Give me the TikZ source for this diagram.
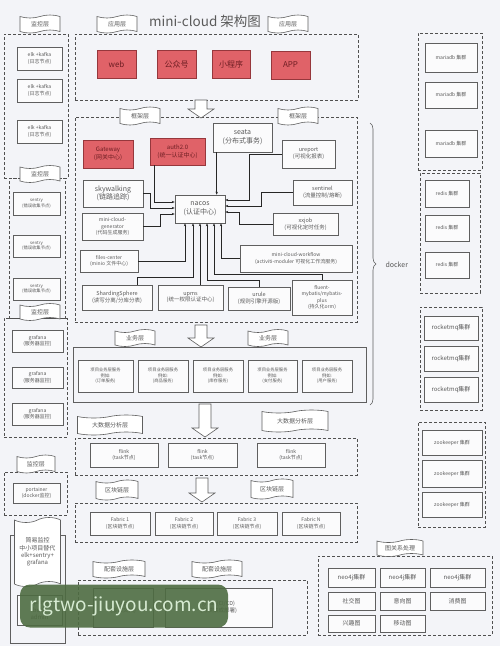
\documentclass[tikz,border=0pt]{standalone}
\usepackage{fontspec}
\setmainfont{Noto Sans CJK SC}
\usetikzlibrary{shapes.symbols,arrows.meta,decorations.pathreplacing,calc}
\definecolor{bgc}{RGB}{243,244,248}
\definecolor{boxfill}{RGB}{251,251,252}
\definecolor{linec}{RGB}{95,95,95}
\definecolor{dashc}{RGB}{80,80,80}
\definecolor{txtc}{RGB}{90,90,90}
\definecolor{redfill}{RGB}{224,98,104}
\definecolor{redline}{RGB}{150,55,60}
\definecolor{redtxt}{RGB}{110,30,35}
\definecolor{wmgreen}{RGB}{78,108,66}
\definecolor{wmtext}{RGB}{215,235,210}
\newcommand\mybox[7][]{\node[plainbox,#1,minimum width={#5-#3},minimum height={#6-#4}] (#2) at ({(#3+#5)/2},{(#4+#6)/2}) {#7};}
\newcommand\hollowarrow[3]{\draw[hollow] (#1-6,#2) -- (#1+6,#2) -- (#1+6,{#3-9}) -- (#1+13,{#3-9}) -- (#1,#3) -- (#1-13,{#3-9}) -- (#1-6,{#3-9}) -- cycle;}
\begin{document}
\begin{tikzpicture}[x=1pt,y=-1pt,
 f4/.style={font=\fontsize{4.3}{5.4}\selectfont},
 f5/.style={font=\fontsize{5}{6.2}\selectfont},
 f55/.style={font=\fontsize{5.5}{6.8}\selectfont},
 f6/.style={font=\fontsize{6}{7.4}\selectfont},
 f7/.style={font=\fontsize{7}{8.6}\selectfont},
 f8/.style={font=\fontsize{8}{9.6}\selectfont},
 plainbox/.style={draw=linec, fill=boxfill, line width=0.6pt, align=center, text=txtc, inner sep=0.5pt, f5},
 redbox/.style={fill=redfill, draw=redline, text=redtxt},
 dashbox/.style={draw=dashc, fill=none, dash pattern=on 3pt off 2pt, line width=0.6pt},
 banner/.style={tape, draw=linec, fill=white, line width=0.6pt, tape bend height=3pt, text=txtc, inner sep=1pt, f6},
 hollow/.style={draw=linec, fill=white, line width=0.6pt},
 conn/.style={draw=black!85, line width=0.5pt, -{Stealth[length=3pt,width=2.4pt]}},
 wm/.style={fill=wmgreen, fill opacity=0.9, text opacity=1, text=wmtext, rounded corners=10pt, minimum width=208pt, minimum height=43pt, font=\fontsize{19}{20}\selectfont}
]
\fill[bgc] (0,0) rectangle (500,646);
\useasboundingbox (0,0) rectangle (500,646);

% title
\node[text=txtc, font=\fontsize{13.5}{15}\selectfont] (title) at (205,21) {mini-cloud 架构图};

% ---------- containers ----------
\mybox[dashbox]{elkc}{4}{34}{68}{178}{}
\mybox[dashbox]{sentc}{9}{178}{65}{318}{}
\mybox[dashbox]{grafc}{4}{318}{67}{437}{}
\mybox[dashbox]{portc}{4}{472}{67}{515}{}
\draw[draw=linec, line width=0.6pt] (10,535) rectangle (65,643);
\mybox[dashbox]{appc}{75}{34}{358}{100}{}
\mybox[dashbox]{frmc}{75}{117}{357}{322}{}
\mybox[fill=none]{bizc}{73}{347}{366}{402}{}
\mybox[dashbox]{bdc}{75}{438}{357}{475}{}
\mybox[dashbox]{bcc}{75}{503}{357}{542}{}
\mybox[dashbox]{supc}{78}{580}{307}{635}{}
\mybox[dashbox]{grc}{318}{556}{492}{635}{}
\mybox[dashbox]{mariac}{418}{33}{482}{170}{}
\mybox[dashbox]{redisc}{420}{173}{480}{293}{}
\mybox[dashbox]{rmqc}{420}{307}{482}{410}{}
\mybox[dashbox]{zkc}{418}{422}{485}{527}{}

% ---------- banners ----------
\node[banner, minimum width=40pt, minimum height=18pt] (mon1) at (40,24) {监控层};
\node[banner, minimum width=40pt, minimum height=18pt] (app1) at (117,24) {应用层};
\node[banner, minimum width=40pt, minimum height=18pt] (app2) at (288,24) {应用层};
\node[banner, minimum width=40pt, minimum height=18pt] (frm1) at (140,116) {框架层};
\node[banner, minimum width=40pt, minimum height=18pt] (frm2) at (298,116) {框架层};
\node[banner, minimum width=40pt, minimum height=17pt] (mon2) at (40,174) {监控层};
\node[banner, minimum width=40pt, minimum height=17pt] (mon3) at (40,312) {监控层};
\node[banner, minimum width=38pt, minimum height=18pt] (mon4) at (36,464) {监控层};
\node[banner, minimum width=46pt, minimum height=69pt, align=center, f6, tape bend height=5pt] (simple) at (37.5,552) {简易监控\\中小项目替代\\elk+sentry+\\grafana};
\node[banner, minimum width=40pt, minimum height=17pt] (biz1) at (135,338) {业务层};
\node[banner, minimum width=40pt, minimum height=17pt] (biz2) at (268,338) {业务层};
\node[banner, minimum width=65pt, minimum height=20pt] (bd1) at (110,425) {大数据分析层};
\node[banner, minimum width=66pt, minimum height=22pt] (bd2) at (295,421) {大数据分析层};
\node[banner, minimum width=42pt, minimum height=20pt] (bc1) at (117,490) {区块链层};
\node[banner, minimum width=42pt, minimum height=20pt] (bc2) at (272,489) {区块链层};
\node[banner, minimum width=52pt, minimum height=18pt] (sup1) at (119,569) {配套设施层};
\node[banner, minimum width=50pt, minimum height=18pt] (sup2) at (217,569) {配套设施层};
\node[banner, minimum width=46pt, minimum height=17pt] (graph) at (400,548) {图关系处理};

% ---------- hollow arrows ----------
\hollowarrow{201}{100}{118}
\hollowarrow{201}{325}{347}
\hollowarrow{205}{404}{437}
\hollowarrow{202}{478}{502}

% ---------- docker brace ----------
\draw[linec, line width=0.6pt, decorate, decoration={brace, amplitude=6pt}] (370,123) -- (370,405);
\node[text=txtc, f7, anchor=west] (docker) at (382,265) {docker};

% ---------- left monitoring ----------
\mybox[f5]{elk1}{17}{47}{62}{70}{elk +kafka\\(日志节点)}
\mybox[f5]{elk2}{17}{79}{62}{102}{elk +kafka\\(日志节点)}
\mybox[f5]{elk3}{17}{120}{62}{143}{elk +kafka\\(日志节点)}
\mybox[f4]{sen1}{13}{192}{60}{215}{sentry\\(错误收集节点)}
\mybox[f4]{sen2}{13}{235}{60}{257}{sentry\\(错误收集节点)}
\mybox[f4]{sen3}{13}{278}{60}{300}{sentry\\(错误收集节点)}
\mybox[f5]{gra1}{12}{330}{63}{352}{grafana\\(服务器监控)}
\mybox[f5]{gra2}{12}{367}{63}{388}{grafana\\(服务器监控)}
\mybox[f5]{gra3}{12}{403}{63}{425}{grafana\\(服务器监控)}
\mybox[f5]{port}{13}{483}{60}{503}{portainer\\(docker监控)}
\mybox[f6]{sba}{17}{595}{62}{625}{spring\\boot\\admin}

% ---------- application ----------
\mybox[redbox,f8]{web}{97}{50}{136}{78}{web}
\mybox[redbox,f8]{gzh}{157}{50}{196}{78}{公众号}
\mybox[redbox,f8]{xcx}{212}{50}{250}{78}{小程序}
\mybox[redbox,f8]{appn}{271}{51}{310}{79}{APP}

% ---------- framework ----------
\mybox[redbox,f6]{gw}{83}{140}{133}{168}{Gateway\\(网关中心)}
\mybox[redbox,f6]{auth}{150}{138}{205}{165}{auth2.0\\(统一认证中心)}
\mybox[f7]{seata}{213}{123}{272}{152}{seata\\(分布式事务)}
\mybox[f55]{urep}{282}{140}{335}{168}{ureport\\(可视化报表)}
\mybox[f55]{sent}{293}{180}{352}{205}{sentinel\\(流量控制/熔断)}
\mybox[f55]{xxjob}{273}{213}{338}{235}{xxjob\\(可视化定时任务)}
\mybox[f7]{sky}{83}{180}{143}{207}{skywalking\\(链路追踪)}
\mybox[f7]{nacos}{175}{195}{225}{223}{nacos\\(认证中心)}
\mybox[f5]{gen}{82}{213}{143}{240}{mini-cloud-\\generator\\(代码生成服务)}
\mybox[f5]{files}{80}{250}{138}{272}{files-center\\(minio 文件中心)}
\mybox[f5]{wf}{240}{245}{352}{272}{mini-cloud-workflow\\(activiti-moduler 可视化工作流服务)}
\mybox[f55]{shard}{82}{285}{152}{310}{ShardingSphere\\(读写分离/分库分表)}
\mybox[f55]{upms}{158}{285}{223}{310}{upms\\(统一权限认证中心)}
\mybox[f55]{urule}{228}{287}{290}{310}{urule\\(规则引擎开源版)}
\mybox[f5]{fluent}{292}{280}{352}{315}{fluent-\\mybatis/mybatis-\\plus\\(持久化orm)}

\draw[conn] ([xshift=5pt]auth.south west) |- ([yshift=7pt]nacos.west);
\draw[conn] (sky.east) -- ++(7,0) |- ([yshift=1pt]nacos.west);
\draw[conn] (gen.east) -- ++(17,0) |- ([yshift=-5pt]nacos.west);
\coordinate (seatab) at ([xshift=4pt]seata.south west);
\draw[conn] (seatab) -- (seatab |- nacos.north);
\draw[conn] (urep.west) -- ++(-32,0) |- ([yshift=9pt]nacos.east);
\draw[conn] (sent.west) -- ++(-31,0) |- ([yshift=3pt]nacos.east);
\draw[conn] (xxjob.west) -- ++(-33,0) |- ([yshift=-3pt]nacos.east);
\draw[conn] (files.east) -| ([xshift=-15pt]nacos.south);
\coordinate (shardt) at ([xshift=-15pt]shard.north east);
\draw[conn] (shardt) -- ++(0,-7) -| ([xshift=-7pt]nacos.south);
\draw[conn] (upms.north -| nacos.south) -- (nacos.south);
\draw[conn] (urule.north) -- ++(0,-6) -| ([xshift=7pt]nacos.south);
\draw[conn] (fluent.north) -- ++(0,-5) -| ([xshift=14pt]nacos.south);
\draw[conn] (wf.west) -| ([xshift=21pt]nacos.south);

% ---------- business ----------
\mybox[f4]{b1}{78}{360}{133}{392}{项目业务层服务\\例如:\\(订单服务)}
\mybox[f4]{b2}{138}{360}{188}{392}{项目业务层服务\\例如:\\(商品服务)}
\mybox[f4]{b3}{193}{360}{243}{392}{项目业务层服务\\例如:\\(库存服务)}
\mybox[f4]{b4}{248}{360}{297}{392}{项目业务层服务\\例如:\\(支付服务)}
\mybox[f4]{b5}{302}{360}{352}{392}{项目业务层服务\\例如:\\(用户服务)}

% ---------- big data ----------
\mybox[f5]{fl1}{90}{443}{158}{467}{flink\\(task节点)}
\mybox[f5]{fl2}{168}{443}{237}{467}{flink\\(task节点)}
\mybox[f5]{fl3}{257}{443}{325}{467}{flink\\(task节点)}

% ---------- blockchain ----------
\mybox[f5]{fa1}{90}{512}{150}{535}{Fabric 1\\(区块链节点)}
\mybox[f5]{fa2}{155}{512}{213}{535}{Fabric 2\\(区块链节点)}
\mybox[f5]{fa3}{217}{512}{277}{535}{Fabric 3\\(区块链节点)}
\mybox[f5]{fa4}{282}{512}{340}{535}{Fabric N\\(区块链节点)}

% ---------- support ----------
\mybox[f55]{yapi}{93}{588}{153}{627}{YApi\\(接口文档)}
\mybox[f55]{gitlab}{165}{588}{272}{627}{gitlab(CI/CD)\\(持续集成部署)}

% ---------- graph ----------
\mybox[f6]{g1}{328}{568}{375}{587}{neo4j集群}
\mybox[f6]{g2}{380}{568}{425}{587}{neo4j集群}
\mybox[f6]{g3}{430}{568}{485}{587}{neo4j集群}
\mybox[f6]{g4}{328}{592}{375}{610}{社交图}
\mybox[f6]{g5}{380}{592}{425}{610}{意向图}
\mybox[f6]{g6}{430}{592}{485}{610}{消费图}
\mybox[f6]{g7}{328}{615}{375}{632}{兴趣图}
\mybox[f6]{g8}{380}{615}{425}{632}{移动图}

% ---------- right column ----------
\mybox[f5]{m1}{425}{43}{477}{72}{mariadb 集群}
\mybox[f5]{m2}{425}{82}{477}{108}{mariadb 集群}
\mybox[f5]{m3}{425}{130}{477}{157}{mariadb 集群}
\mybox[f5]{r1}{425}{180}{469}{207}{redis 集群}
\mybox[f5]{r2}{425}{215}{469}{241}{redis 集群}
\mybox[f5]{r3}{425}{252}{469}{278}{redis 集群}
\mybox[f6]{q1}{424}{316}{478}{340}{rocketmq集群}
\mybox[f6]{q2}{424}{346}{478}{371}{rocketmq集群}
\mybox[f6]{q3}{424}{377}{478}{402}{rocketmq集群}
\mybox[f5]{z1}{422}{430}{482}{455}{zookeeper 集群}
\mybox[f5]{z2}{422}{460}{482}{487}{zookeeper 集群}
\mybox[f5]{z3}{422}{492}{482}{517}{zookeeper 集群}

% ---------- watermark ----------
\node[wm] (wmark) at (124,606) {rlgtwo-jiuyou.com.cn};
\end{tikzpicture}
\end{document}
